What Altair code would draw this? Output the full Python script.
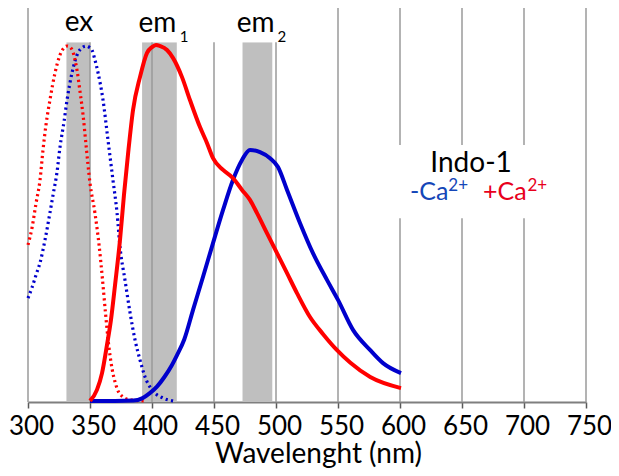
import altair as alt
import pandas as pd

# ---------------- data ----------------
# excitation spectra (dotted)
ex_minus_nm = [300.0, 303.2, 306.5, 309.7, 313.7, 317.7, 320.2, 323.4, 325.8, 329.0, 331.5,
               335.5, 340.3, 343.5, 346.8, 349.2, 351.6, 354.0, 356.5, 360.5, 364.5, 368.5,
               371.8, 374.2, 378.2, 382.3, 386.3, 390.3, 394.4, 400.0, 408.9, 417.0]
ex_minus_val = [29.1, 32.0, 35.6, 39.0, 45.4, 53.0, 58.0, 64.4, 71.4, 78.4, 84.6,
                92.2, 97.8, 99.2, 99.7, 99.4, 98.6, 95.8, 92.2, 84.6, 73.4, 62.2,
                53.0, 43.4, 34.2, 25.0, 17.4, 11.8, 7.0, 3.4, 1.1, 0.3]

ex_plus_nm = [300.0, 303.2, 306.5, 309.7, 312.1, 314.5, 317.7, 321.8, 325.8, 329.0, 331.5,
              333.9, 336.3, 339.5, 342.0, 344.4, 346.8, 350.0, 354.0, 357.3, 360.1, 362.5,
              364.9, 367.7, 370.2, 374.2, 382.3, 395.2]
ex_plus_val = [44.0, 48.7, 55.7, 62.2, 70.6, 77.6, 84.6, 92.2, 97.2, 99.2, 99.7,
               99.4, 98.0, 93.0, 86.8, 80.4, 72.0, 61.3, 52.9, 44.0, 34.2, 24.9,
               16.5, 9.5, 5.6, 2.2, 0.6, 0.3]

# emission spectra (solid)
em_minus_nm = [350.0, 370.0, 385.0, 392.0, 398.0, 404.0, 410.0, 416.0, 420.0, 426.0, 433.1,
               441.1, 449.2, 457.3, 465.3, 472.6, 479.0, 487.1, 495.2, 501.6, 508.9, 519.4,
               529.8, 541.1, 550.0, 562.1, 575.8, 586.3, 600.8]
em_minus_val = [0.3, 0.3, 0.4, 1.0, 2.4, 4.3, 7.0, 10.3, 13.0, 17.5, 25.8,
                35.0, 44.5, 53.8, 62.2, 67.8, 70.6, 70.0, 68.3, 65.8, 59.4, 50.1,
                41.7, 34.2, 28.6, 20.2, 14.6, 10.9, 8.1]

em_plus_nm = [350.0, 355.6, 359.7, 363.7, 366.9, 370.2, 374.2, 377.4, 380.6, 384.7, 390.3,
              396.0, 400.0, 403.2, 406.5, 412.1, 416.9, 424.2, 430.6, 438.7, 444.4, 449.2,
              457.3, 465.3, 472.6, 479.0, 484.7, 492.7, 500.8, 508.9, 516.9, 527.4, 538.0,
              549.0, 560.0, 576.0, 600.8]
em_plus_val = [0.3, 3.4, 8.1, 16.0, 23.0, 32.8, 45.4, 58.0, 69.2, 81.8, 91.0,
               97.8, 99.4, 100.0, 99.7, 98.6, 96.4, 91.0, 84.6, 77.0, 72.5, 68.3,
               65.0, 62.7, 59.4, 56.6, 52.9, 47.3, 41.7, 36.1, 30.5, 23.8, 19.0,
               14.6, 11.0, 7.0, 3.9]

# filter bands
band_names = ["ex", "em1", "em2"]
band_lo = [331, 392, 473]
band_hi = [350, 420, 497]
band_top = 100.8

# axis ticks / gridlines
tick_values = [300, 350, 400, 450, 500, 550, 600, 650, 700, 750]

series_names = ["-Ca2+", "+Ca2+"]
series_colors = ["#0000CC", "#FF0000"]

X_DOMAIN = [300, 750]
Y_DOMAIN = [0, 110.36]

# ---------------- tables ----------------
ex_df = pd.concat([
    pd.DataFrame({"nm": ex_minus_nm, "v": ex_minus_val, "s": series_names[0]}),
    pd.DataFrame({"nm": ex_plus_nm, "v": ex_plus_val, "s": series_names[1]}),
])
em_df = pd.concat([
    pd.DataFrame({"nm": em_minus_nm, "v": em_minus_val, "s": series_names[0]}),
    pd.DataFrame({"nm": em_plus_nm, "v": em_plus_val, "s": series_names[1]}),
])
band_df = pd.DataFrame({"name": band_names, "lo": band_lo, "hi": band_hi,
                        "y0": [0] * 3, "y1": [band_top] * 3})
grid_df = pd.DataFrame({"g": tick_values})

# white label backgrounds (annotation boxes)
box_df = pd.DataFrame({"lo": [310, 584], "hi": [535, 729],
                       "y0": [band_top, 51.5], "y1": [Y_DOMAIN[1], 72.0]})

xs = alt.Scale(domain=X_DOMAIN, nice=False, zero=False)
ys = alt.Scale(domain=Y_DOMAIN, nice=False, zero=False)
col = alt.Scale(domain=series_names, range=series_colors)

FONT = "Lato"

x_axis = alt.Axis(
    values=tick_values, grid=False, domainColor="#7f7f7f", domainWidth=2,
    tickColor="#595959", tickWidth=1.5, tickSize=6,
    labelFont=FONT, labelFontSize=26, labelColor="black",
    labelBaseline="alphabetic", labelPadding=26, labelOffset=3,
    labelFlush=False, labelOverlap=False,
    title="Wavelenght (nm)", titleFont=FONT, titleFontSize=28,
    titleFontWeight="normal", titleColor="black", titleBaseline="alphabetic",
    titleY=60, titleX=290,
)

bands = alt.Chart(band_df).mark_rect(color="#BFBFBF").encode(
    x=alt.X("lo:Q", scale=xs, axis=x_axis), x2="hi:Q",
    y=alt.Y("y0:Q", scale=ys, axis=None), y2="y1:Q",
)

grid = alt.Chart(grid_df).mark_rule(color="#9a9a9a", strokeWidth=1.5).encode(
    x=alt.X("g:Q", scale=xs), y=alt.value(0), y2=alt.value(394),
)

boxes = alt.Chart(box_df).mark_rect(color="white").encode(
    x=alt.X("lo:Q", scale=xs), x2="hi:Q",
    y=alt.Y("y0:Q", scale=ys), y2="y1:Q",
)

ex_lines = alt.Chart(ex_df).mark_line(
    strokeDash=[2.2, 3.3], strokeWidth=3.2, strokeCap="butt", interpolate="monotone"
).encode(
    x=alt.X("nm:Q", scale=xs), y=alt.Y("v:Q", scale=ys),
    color=alt.Color("s:N", scale=col, legend=None), detail="s:N",
)

em_lines = alt.Chart(em_df).mark_line(
    strokeWidth=4, interpolate="monotone"
).encode(
    x=alt.X("nm:Q", scale=xs), y=alt.Y("v:Q", scale=ys),
    color=alt.Color("s:N", scale=col, legend=None), detail="s:N",
)


def text_layer(texts, xs_, ys_, size, color, align):
    df = pd.DataFrame({"t": texts, "x": xs_, "y": ys_})
    return alt.Chart(df).mark_text(
        font=FONT, fontSize=size, color=color, align=align, baseline="alphabetic"
    ).encode(x=alt.X("x:Q", scale=xs), y=alt.Y("y:Q", scale=ys), text="t:N")


band_labels = text_layer(["ex", "em", "em"], [341.1, 404.4, 483.5], [103.9, 103.6, 103.6],
                         28, "black", "center")
band_subs = text_layer(["1", "2"], [425.8, 504.8], [100.8, 100.8], 15, "black", "center")
indo = text_layer(["Indo-1"], [657.3], [64.4], 28, "black", "center")
ca_minus = text_layer(["-Ca"], [608.1], [56.6], 25, "#1446B8", "left")
ca_minus_sup = text_layer(["2+"], [639.0], [59.1], 17, "#1446B8", "left")
ca_plus = text_layer(["+Ca"], [666.9], [56.6], 25, "#E8001C", "left")
ca_plus_sup = text_layer(["2+"], [702.8], [59.1], 17, "#E8001C", "left")

chart = alt.layer(
    bands, grid, boxes, ex_lines, em_lines,
    band_labels, band_subs, indo, ca_minus, ca_minus_sup, ca_plus, ca_plus_sup,
).properties(
    width=558, height=394,
    padding={"left": 20, "top": 0, "right": 25, "bottom": 66},
    autosize=alt.AutoSizeParams(type="none"),
    background="white",
).configure_view(strokeWidth=0)

chart.save("out.html", embed_options={"renderer": "svg", "actions": False})
